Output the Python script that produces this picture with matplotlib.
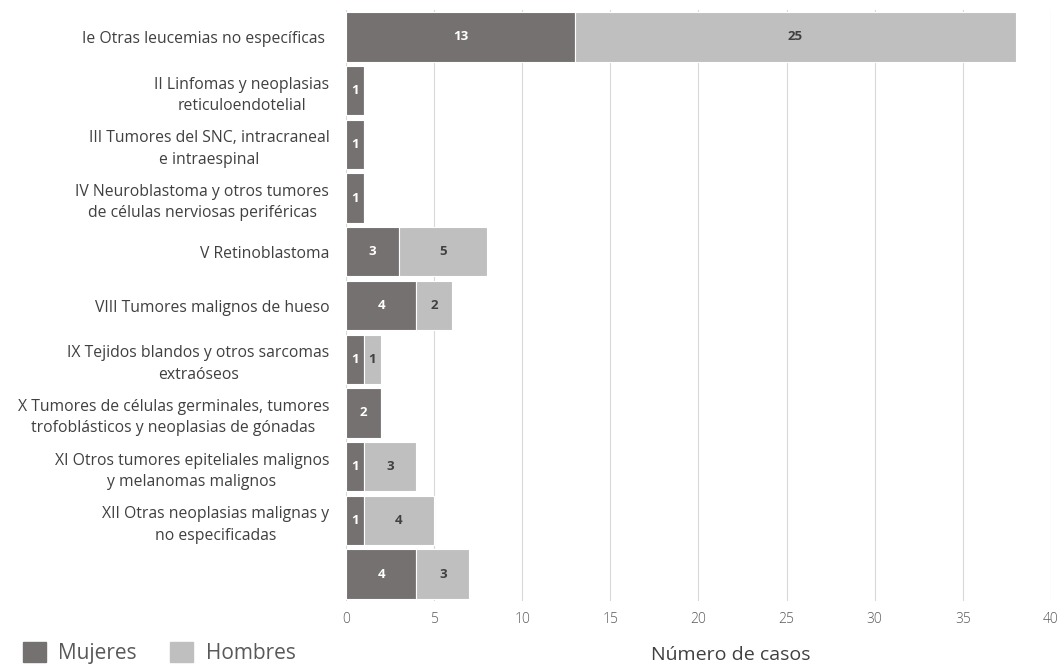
import matplotlib.pyplot as plt
import matplotlib.patches as mpatches
import numpy as np

plt.rcParams['font.family'] = ['Open Sans', 'DejaVu Sans']

categorias = [
    "Ie Otras leucemias no específicas ",
    "II Linfomas y neoplasias\nreticuloendotelial",
    "III Tumores del SNC, intracraneal\ne intraespinal",
    "IV Neuroblastoma y otros tumores\nde células nerviosas periféricas",
    "V Retinoblastoma",
    "VIII Tumores malignos de hueso",
    "IX Tejidos blandos y otros sarcomas\nextraóseos",
    "X Tumores de células germinales, tumores\ntrofoblásticos y neoplasias de gónadas",
    "XI Otros tumores epiteliales malignos\ny melanomas malignos",
    "XII Otras neoplasias malignas y\nno especificadas",
    "",
]
mujeres = [13, 1, 1, 1, 3, 4, 1, 2, 1, 1, 4]
hombres = [25, 0, 0, 0, 5, 2, 1, 0, 3, 4, 3]
xticks = [0, 5, 10, 15, 20, 25, 30, 35, 40]

c_muj = '#767171'
c_hom = '#bfbfbf'
c_txt = '#595959'

fig = plt.figure(figsize=(10.59, 6.68), dpi=100)
ax = fig.add_axes([0.3267, 0.1003, 0.6657, 0.8847])

y = np.arange(len(categorias))
ax.barh(y, mujeres, height=0.92, color=c_muj, edgecolor='white', linewidth=0.8, zorder=3)
ax.barh(y, hombres, left=mujeres, height=0.92, color=c_hom, edgecolor='white', linewidth=0.8, zorder=3)

for i in range(len(y)):
    if mujeres[i] > 0:
        ax.text(mujeres[i] / 2, y[i], str(mujeres[i]), ha='center', va='center',
                color='white', fontsize=9.5, fontweight='bold', zorder=4)
    if hombres[i] > 0:
        ax.text(mujeres[i] + hombres[i] / 2, y[i], str(hombres[i]), ha='center', va='center',
                color='#404040', fontsize=9.5, fontweight='bold', zorder=4)

ax.set_ylim(len(categorias) - 0.5, -0.5)
ax.set_xlim(0, 40)
ax.set_xticks(xticks)
ax.set_xticklabels([str(t) for t in xticks], color=c_txt, fontsize=10, fontweight='light')
ax.set_yticks(y)
ax.set_yticklabels(categorias, color='#404040', fontsize=11.3, multialignment='center',
                   linespacing=1.45)
ax.tick_params(axis='y', length=0, pad=12)
ax.tick_params(axis='x', length=0, pad=8)
ax.grid(axis='x', color='#d9d9d9', linewidth=0.8, zorder=0)
for s in ax.spines.values():
    s.set_visible(False)

fig.text(0.69, 0.019, "Número de casos", ha='center', va='center', color='#404040', fontsize=14)

handles = [mpatches.Patch(color=c_muj, label='Mujeres'), mpatches.Patch(color=c_hom, label='Hombres')]
leg = fig.legend(handles=handles, loc='lower left', bbox_to_anchor=(0.004, -0.022), ncol=2,
                 frameon=False, fontsize=15, handlelength=1.1, handleheight=1.1,
                 columnspacing=1.6, handletextpad=0.6)
for t in leg.get_texts():
    t.set_color(c_txt)

fig.savefig('out.png', dpi=100)
